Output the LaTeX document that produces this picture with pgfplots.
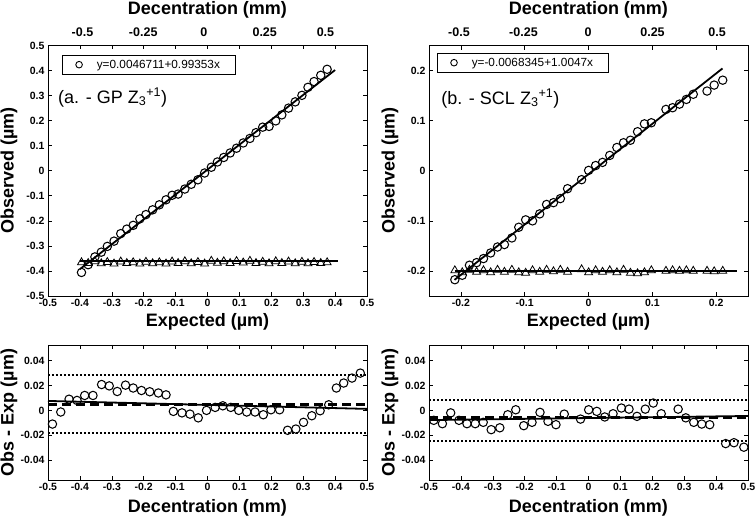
\documentclass[border=0pt]{standalone}
\usepackage{fontspec}
\setmainfont{Liberation Sans}
\usepackage{pgfplots}
\pgfplotsset{compat=1.18}

\pgfplotsset{
  every axis/.append style={
    scale only axis,
    /pgf/number format/assume math mode=true,
    /pgf/number format/fixed,
    scaled ticks=false,
    tick label style={font=\fontsize{10.5}{12}\selectfont\bfseries},
    label style={font=\fontsize{18}{20}\selectfont\bfseries},
    major tick length=4pt,
    tick style={black, line width=0.6pt},
    axis line style={line width=0.8pt},
  },
  obs/.style={only marks, mark=o, mark size=4.2pt, mark options={line width=1.05pt, black}},
  tri/.style={only marks, mark=triangle, mark size=4.6pt, mark options={line width=0.8pt, black}},
  fitline/.style={black, line width=1.8pt},
  legobs/.style={legend image code/.code={
      \draw[black, line width=0.9pt] (0pt,0pt) circle (3.3pt);}},
  dec/.style={hide y axis, axis x line*=top, axis line style={draw=none},
    major tick length=0pt, ymin=0, ymax=1,
    xtick={-0.5,-0.25,0,0.25,0.5}, xticklabels={-0.5,-0.25,0,0.25,0.5},
    xticklabel style={font=\fontsize{12.5}{14}\selectfont\bfseries},
    xticklabel shift=5pt,
    xlabel={Decentration (mm)},
    xlabel style={at={(axis description cs:0.5,1.142)}, anchor=center}},
}

\begin{document}
\begin{tikzpicture}
\path[use as bounding box] (0pt,0pt) rectangle (755pt,-519pt);

% ---- top left: GP ----
\begin{axis}[at={(48pt,-296pt)}, anchor=south west, width=319pt, height=250.5pt,
  xmin=-0.5, xmax=0.5, ymin=-0.5, ymax=0.5,
  xtick={-0.5,-0.4,-0.3,-0.2,-0.1,0,0.1,0.2,0.3,0.4,0.5},
  ytick={-0.5,-0.4,-0.3,-0.2,-0.1,0,0.1,0.2,0.3,0.4,0.5},
  xlabel={Expected (µm)}, ylabel={Observed (µm)},
  xlabel style={at={(axis description cs:0.5,-0.104)}, anchor=center},
  ylabel style={at={(axis description cs:-0.122,0.5)}, anchor=center},
  legend style={at={(0.044,0.962)}, anchor=north west, draw=black, line width=0.6pt,
    font=\fontsize{11.8}{13}\selectfont, inner xsep=13pt, inner ysep=2.5pt},
  legend cell align=left]
\addlegendimage{legobs}
\addlegendentry{\hspace{12pt}y=0.0046711+0.99353x\hspace{15pt}}
\addplot[obs, forget plot] coordinates {(-0.395,-0.406) (-0.374,-0.375) (-0.353,-0.344) (-0.333,-0.325)
  (-0.314,-0.302) (-0.293,-0.281) (-0.272,-0.251) (-0.253,-0.233) (-0.233,-0.218)
  (-0.212,-0.192) (-0.193,-0.175) (-0.172,-0.156) (-0.151,-0.136) (-0.130,-0.116)
  (-0.111,-0.098) (-0.092,-0.093) (-0.071,-0.073) (-0.051,-0.054) (-0.030,-0.036)
  (-0.009,-0.009) (0.012,0.014) (0.031,0.035) (0.051,0.053) (0.071,0.071) (0.091,0.090)
  (0.112,0.111) (0.133,0.129) (0.152,0.152) (0.173,0.174) (0.193,0.177) (0.214,0.199)
  (0.233,0.223) (0.254,0.250) (0.275,0.275) (0.296,0.301) (0.315,0.333) (0.334,0.356)
  (0.355,0.381) (0.375,0.405)};
\addplot[tri, forget plot] coordinates {(-0.395,-0.366) (-0.374,-0.369) (-0.353,-0.362)
  (-0.333,-0.370) (-0.314,-0.365) (-0.293,-0.371) (-0.272,-0.363) (-0.253,-0.369)
  (-0.233,-0.366) (-0.212,-0.371) (-0.193,-0.364) (-0.172,-0.370) (-0.151,-0.366)
  (-0.130,-0.371) (-0.111,-0.363) (-0.092,-0.369) (-0.071,-0.362) (-0.051,-0.370)
  (-0.030,-0.365) (-0.009,-0.371) (0.012,-0.360) (0.031,-0.368) (0.051,-0.362)
  (0.071,-0.369) (0.091,-0.361) (0.112,-0.367) (0.133,-0.360) (0.152,-0.369)
  (0.173,-0.364) (0.193,-0.370) (0.214,-0.362) (0.233,-0.369) (0.254,-0.363)
  (0.275,-0.370) (0.296,-0.364) (0.315,-0.370) (0.334,-0.365) (0.355,-0.369) (0.375,-0.366)};
\addplot[fitline, forget plot] coordinates {(-0.4,-0.3928) (0.4,0.4021)};
\addplot[fitline, forget plot] coordinates {(-0.4,-0.36) (0.41,-0.36)};
\node[anchor=base west, inner sep=0pt, font=\fontsize{18}{20}\selectfont] at (axis description cs:0.031,0.770)
  {(a. - GP Z\textsubscript{3}\textsuperscript{+1})};
\end{axis}
\begin{axis}[dec, at={(48pt,-296pt)}, anchor=south west, width=319pt, height=250.5pt,
  xmin=-0.642, xmax=0.671]
\addplot[draw=none] coordinates {(0,0.5)};
\end{axis}

% ---- top right: SCL ----
\begin{axis}[at={(429pt,-296pt)}, anchor=south west, width=319pt, height=250.5pt,
  xmin=-0.25, xmax=0.25, ymin=-0.25, ymax=0.25,
  xtick={-0.2,-0.1,0,0.1,0.2}, ytick={-0.2,-0.1,0,0.1,0.2},
  xlabel={Expected (µm)}, ylabel={Observed (µm)},
  xlabel style={at={(axis description cs:0.5,-0.104)}, anchor=center},
  ylabel style={at={(axis description cs:-0.122,0.5)}, anchor=center},
  legend style={at={(0.025,0.970)}, anchor=north west, draw=black, line width=0.6pt,
    font=\fontsize{11.8}{13}\selectfont, inner xsep=13pt, inner ysep=2.5pt},
  legend cell align=left]
\addlegendimage{legobs}
\addlegendentry{\hspace{12pt}y=-0.0068345+1.0047x\hspace{15pt}}
\addplot[obs, forget plot] coordinates {(-0.2095,-0.2175) (-0.1979,-0.2086) (-0.1866,-0.1886)
  (-0.1754,-0.1834) (-0.1646,-0.1753) (-0.1534,-0.1641) (-0.1426,-0.1522)
  (-0.1318,-0.1473) (-0.1201,-0.1341) (-0.1093,-0.1128) (-0.0985,-0.0980)
  (-0.0877,-0.1000) (-0.0765,-0.0861) (-0.0657,-0.0673) (-0.0549,-0.0637)
  (-0.0441,-0.0556) (-0.0328,-0.0358) (-0.0108,-0.0178) (0.0002,0.0007)
  (0.0112,0.0104) (0.0220,0.0167) (0.0333,0.0306) (0.0445,0.0464) (0.0549,0.0559)
  (0.0657,0.0609) (0.0769,0.0779) (0.0877,0.0936) (0.0985,0.0958) (0.1214,0.1224)
  (0.1318,0.1258) (0.1426,0.1330) (0.1534,0.1424) (0.1642,0.1527) (0.1858,0.1591)
  (0.1970,0.1710) (0.2104,0.1808)};
\addplot[tri, forget plot] coordinates {(-0.2095,-0.199) (-0.1979,-0.203) (-0.1866,-0.198)
  (-0.1754,-0.202) (-0.1646,-0.199) (-0.1534,-0.203) (-0.1426,-0.198) (-0.1318,-0.202)
  (-0.1201,-0.198) (-0.1093,-0.203) (-0.0985,-0.204) (-0.0877,-0.199) (-0.0765,-0.202)
  (-0.0657,-0.198) (-0.0549,-0.201) (-0.0441,-0.198) (-0.0328,-0.202) (-0.0108,-0.197)
  (0.0002,-0.203) (0.0112,-0.199) (0.0220,-0.202) (0.0333,-0.199) (0.0445,-0.203)
  (0.0549,-0.198) (0.0657,-0.204) (0.0769,-0.205) (0.0877,-0.203) (0.0985,-0.199)
  (0.1214,-0.200) (0.1318,-0.199) (0.1426,-0.200) (0.1534,-0.199) (0.1642,-0.200)
  (0.1858,-0.200) (0.1970,-0.201) (0.2104,-0.200)};
\addplot[fitline, forget plot] coordinates {(-0.21,-0.2178) (0.21,0.2042)};
\addplot[fitline, forget plot] coordinates {(-0.21,-0.2) (0.233,-0.2)};
\node[anchor=base west, inner sep=0pt, font=\fontsize{18}{20}\selectfont] at (axis description cs:0.038,0.766)
  {(b. - SCL Z\textsubscript{3}\textsuperscript{+1})};
\end{axis}
\begin{axis}[dec, at={(429pt,-296pt)}, anchor=south west, width=319pt, height=250.5pt,
  xmin=-0.616, xmax=0.62]
\addplot[draw=none] coordinates {(0,0.5)};
\end{axis}

% ---- bottom left: GP residuals ----
\begin{axis}[at={(48pt,-480pt)}, anchor=south west, width=319pt, height=135pt,
  xmin=-0.5, xmax=0.5, ymin=-0.056, ymax=0.0526,
  xtick={-0.5,-0.4,-0.3,-0.2,-0.1,0,0.1,0.2,0.3,0.4,0.5},
  ytick={-0.04,-0.02,0,0.02,0.04},
  xlabel={Decentration (mm)}, ylabel={Obs - Exp (µm)},
  xlabel style={at={(axis description cs:0.5,-0.207)}, anchor=center},
  ylabel style={at={(axis description cs:-0.122,0.5)}, anchor=center}]
\addplot[black, line width=1.9pt, dash pattern=on 1.8pt off 2.2pt] coordinates {(-0.5,0.0285) (0.5,0.0285)};
\addplot[black, line width=1.9pt, dash pattern=on 1.8pt off 2.2pt] coordinates {(-0.5,-0.0185) (0.5,-0.0185)};
\addplot[black, line width=2.2pt, dash pattern=on 9pt off 5pt] coordinates {(-0.5,0.0047) (0.5,0.0047)};
\addplot[fitline] coordinates {(-0.5,0.0076) (0.5,0.0012)};
\addplot[obs] coordinates {(-0.486,-0.011) (-0.460,-0.0013) (-0.434,0.009) (-0.409,0.008)
  (-0.385,0.012) (-0.359,0.012) (-0.332,0.0208) (-0.308,0.0197) (-0.283,0.0152)
  (-0.257,0.0203) (-0.233,0.018) (-0.207,0.016) (-0.181,0.015) (-0.154,0.014)
  (-0.130,0.0125) (-0.107,-0.0008) (-0.080,-0.002) (-0.055,-0.003) (-0.029,-0.006)
  (-0.003,0.000) (0.024,0.0024) (0.048,0.0037) (0.073,0.0024) (0.098,0.000)
  (0.123,-0.0013) (0.149,-0.0013) (0.175,-0.0035) (0.199,0.0005) (0.226,0.0005)
  (0.251,-0.016) (0.277,-0.015) (0.301,-0.0096) (0.327,-0.0043) (0.353,-0.0003)
  (0.380,0.0045) (0.404,0.018) (0.427,0.022) (0.453,0.026) (0.479,0.030)};
\end{axis}

% ---- bottom right: SCL residuals ----
\begin{axis}[at={(429pt,-480pt)}, anchor=south west, width=319pt, height=135pt,
  xmin=-0.5, xmax=0.5, ymin=-0.056, ymax=0.0526,
  xtick={-0.5,-0.4,-0.3,-0.2,-0.1,0,0.1,0.2,0.3,0.4,0.5},
  ytick={-0.04,-0.02,0,0.02,0.04},
  xlabel={Decentration (mm)}, ylabel={Obs - Exp (µm)},
  xlabel style={at={(axis description cs:0.5,-0.207)}, anchor=center},
  ylabel style={at={(axis description cs:-0.122,0.5)}, anchor=center}]
\addplot[black, line width=1.9pt, dash pattern=on 1.8pt off 2.2pt] coordinates {(-0.5,0.0085) (0.5,0.0085)};
\addplot[black, line width=1.9pt, dash pattern=on 1.8pt off 2.2pt] coordinates {(-0.5,-0.0248) (0.5,-0.0248)};
\addplot[black, line width=2.2pt, dash pattern=on 9pt off 5pt] coordinates {(-0.5,-0.0058) (0.5,-0.0058)};
\addplot[fitline] coordinates {(-0.5,-0.0078) (0.5,-0.0045)};
\addplot[obs] coordinates {(-0.485,-0.008) (-0.458,-0.0107) (-0.432,-0.002) (-0.406,-0.008)
  (-0.381,-0.0107) (-0.355,-0.0107) (-0.330,-0.0096) (-0.305,-0.0155) (-0.278,-0.014)
  (-0.253,-0.0035) (-0.228,0.0005) (-0.203,-0.0123) (-0.177,-0.0096) (-0.152,-0.0016)
  (-0.127,-0.0088) (-0.102,-0.0115) (-0.076,-0.003) (-0.025,-0.007) (0.0005,0.0005)
  (0.026,-0.0008) (0.051,-0.0053) (0.077,-0.0027) (0.103,0.0019) (0.127,0.001)
  (0.152,-0.0048) (0.178,0.001) (0.203,0.0059) (0.228,-0.0027) (0.281,0.001)
  (0.305,-0.006) (0.330,-0.0096) (0.355,-0.011) (0.380,-0.0115) (0.430,-0.0267)
  (0.456,-0.026) (0.487,-0.0296)};
\end{axis}
\end{tikzpicture}
\end{document}
